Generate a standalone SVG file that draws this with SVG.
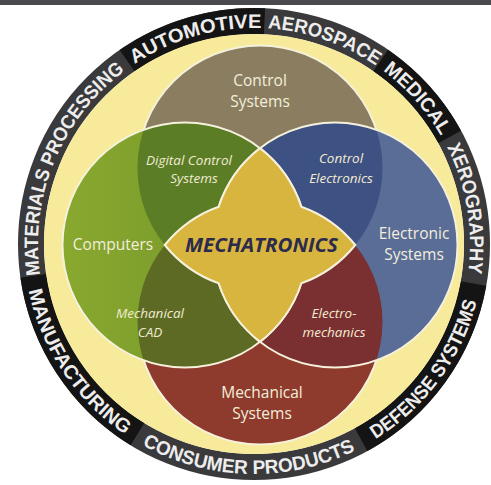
<svg xmlns="http://www.w3.org/2000/svg" width="491" height="485" viewBox="0 0 491 485">
  <style>
    .ringtxt { font-family: "Liberation Sans", Arial, sans-serif; font-weight: bold; font-size: 19.5px; fill: #ededed; }
    .main { font-family: "Open Sans", "Liberation Sans", sans-serif; font-size: 15.5px; fill: #f3eedb; text-anchor: middle; }
    .sub { font-family: "Open Sans", "Liberation Sans", sans-serif; font-style: italic; font-size: 13.5px; fill: #f1ebd2; text-anchor: middle; }
    .seg-dark { fill: none; stroke: #141414; stroke-width: 26; }
    .outline { fill: none; stroke: #f6f1dc; stroke-width: 2; }
  </style>
  <defs>
    <linearGradient id="gGreen" x1="0" y1="0" x2="1" y2="0">
      <stop offset="0" stop-color="#88a82f"/>
      <stop offset="1" stop-color="#72922a"/>
    </linearGradient>
    <clipPath id="clipL"><circle cx="185" cy="245" r="122.5"/></clipPath>
    <clipPath id="clipR"><circle cx="335" cy="245" r="122.5"/></clipPath>
    <path id="pAuto" d="M38.58,228.18 A216,216 0 0 1 429.19,117.65"/>
    <path id="pAero" d="M86.14,108.07 A216,216 0 0 1 469.97,240.23"/>
    <path id="pMed" d="M174.13,43.31 A216,216 0 0 1 444.18,346.40"/>
    <path id="pXero" d="M293.36,31.62 A216,216 0 0 1 360.36,432.0"/>
    <path id="pMat" d="M108.07,403.25 A216,216 0 0 1 263.42,28.21"/>
    <path id="pDef" d="M189.45,464.76 A230,230 0 0 0 445.35,116.39"/>
    <path id="pCons" d="M35.89,316.98 A230,230 0 0 0 468.0,328.30"/>
    <path id="pManu" d="M68.40,108.16 A230,230 0 0 0 308.86,467.36"/>
  </defs>

  <rect x="0" y="0" width="491" height="5" fill="#4a4a4e"/>

  <g id="ring">
    <circle cx="254" cy="244" r="223" fill="none" stroke="#3a3a3c" stroke-width="26"/>
    <path class="seg-dark" d="M127.05,60.66 A223,223 0 0 1 264.51,21.25"/>
    <path class="seg-dark" d="M380.63,60.44 A223,223 0 0 1 449.60,136.91"/>
    <path class="seg-dark" d="M473.48,283.49 A223,223 0 0 1 361.09,439.60"/>
    <path class="seg-dark" d="M137.48,434.14 A223,223 0 0 1 33.28,275.81"/>
    <circle cx="254" cy="244" r="210" fill="#f7ea9a"/>
  </g>

  <g id="ring-labels">
    <text class="ringtxt"><textPath href="#pAuto" startOffset="50%" text-anchor="middle" textLength="134" lengthAdjust="spacingAndGlyphs">AUTOMOTIVE</textPath></text>
    <text class="ringtxt"><textPath href="#pAero" startOffset="50%" text-anchor="middle" textLength="116" lengthAdjust="spacingAndGlyphs">AEROSPACE</textPath></text>
    <text class="ringtxt"><textPath href="#pMed" startOffset="50%" text-anchor="middle" textLength="88" lengthAdjust="spacingAndGlyphs">MEDICAL</textPath></text>
    <text class="ringtxt"><textPath href="#pXero" startOffset="50%" text-anchor="middle" textLength="130" lengthAdjust="spacingAndGlyphs">XEROGRAPHY</textPath></text>
    <text class="ringtxt"><textPath href="#pDef" startOffset="50%" text-anchor="middle" textLength="175" lengthAdjust="spacingAndGlyphs">DEFENSE SYSTEMS</textPath></text>
    <text class="ringtxt"><textPath href="#pCons" startOffset="50%" text-anchor="middle" textLength="222" lengthAdjust="spacingAndGlyphs">CONSUMER PRODUCTS</textPath></text>
    <text class="ringtxt"><textPath href="#pManu" startOffset="50%" text-anchor="middle" textLength="178" lengthAdjust="spacingAndGlyphs">MANUFACTURING</textPath></text>
    <text class="ringtxt"><textPath href="#pMat" startOffset="50%" text-anchor="middle" textLength="232" lengthAdjust="spacingAndGlyphs">MATERIALS PROCESSING</textPath></text>
  </g>

  <g id="control-systems">
    <circle cx="260" cy="168" r="122.5" fill="#8b7e60" stroke="#f6f1dc" stroke-width="2"/>
  </g>
  <g id="mechanical-systems">
    <circle cx="260" cy="322" r="122.5" fill="#8e3a2c" stroke="#f6f1dc" stroke-width="2"/>
  </g>
  <g id="computers">
    <circle cx="185" cy="245" r="122.5" fill="url(#gGreen)"/>
  </g>
  <g id="electronic-systems">
    <circle cx="335" cy="245" r="122.5" fill="#5a6d97"/>
  </g>

  <g id="digital-control-systems">
    <circle cx="260" cy="168" r="122.5" fill="#5b7d26" clip-path="url(#clipL)"/>
  </g>
  <g id="control-electronics">
    <circle cx="260" cy="168" r="122.5" fill="#3e5183" clip-path="url(#clipR)"/>
  </g>
  <g id="mechanical-cad">
    <circle cx="260" cy="322" r="122.5" fill="#5d6a24" clip-path="url(#clipL)"/>
  </g>
  <g id="electro-mechanics">
    <circle cx="260" cy="322" r="122.5" fill="#7a2f30" clip-path="url(#clipR)"/>
  </g>

  <g id="outlines">
    <circle class="outline" cx="185" cy="245" r="122.5"/>
    <circle class="outline" cx="335" cy="245" r="122.5"/>
  </g>

  <g id="mechatronics">
    <path d="M260,148.14 A122.5,122.5 0 0 0 218.65,206.7 A122.5,122.5 0 0 0 164.73,245 A122.5,122.5 0 0 0 218.65,283.3 A122.5,122.5 0 0 0 260,341.86 A122.5,122.5 0 0 0 301.35,283.3 A122.5,122.5 0 0 0 355.27,245 A122.5,122.5 0 0 0 301.35,206.7 A122.5,122.5 0 0 0 260,148.14 Z" fill="#d8b53e" stroke="#f6f1dc" stroke-width="2"/>
    <text x="261.5" y="252" font-family="'Open Sans', 'Liberation Sans', sans-serif" font-weight="bold" font-style="italic" font-size="20" fill="#2c2b4d" text-anchor="middle" textLength="153" lengthAdjust="spacingAndGlyphs">MECHATRONICS</text>
  </g>

  <g id="labels">
    <text class="main" x="260" y="86">Control</text>
    <text class="main" x="260" y="107">Systems</text>
    <text class="main" x="113" y="250">Computers</text>
    <text class="main" x="414" y="239">Electronic</text>
    <text class="main" x="414" y="260">Systems</text>
    <text class="main" x="262" y="398">Mechanical</text>
    <text class="main" x="262" y="419">Systems</text>
    <text class="sub" x="189" y="165">Digital Control</text>
    <text class="sub" x="194" y="183">Systems</text>
    <text class="sub" x="341" y="163">Control</text>
    <text class="sub" x="341" y="183">Electronics</text>
    <text class="sub" x="150" y="318" text-anchor="start">Mechanical</text>
    <text class="sub" x="150" y="337" text-anchor="start">CAD</text>
    <text class="sub" x="334" y="318">Electro-</text>
    <text class="sub" x="334" y="337">mechanics</text>
  </g>
</svg>
